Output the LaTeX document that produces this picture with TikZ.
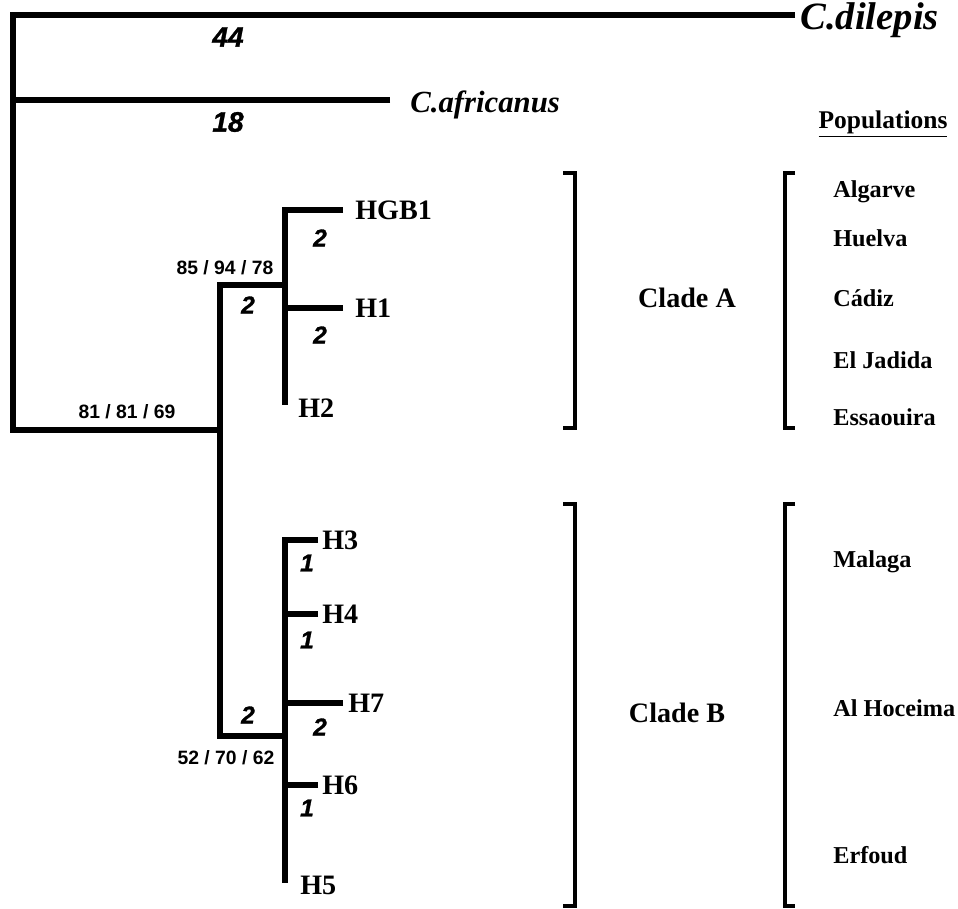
\documentclass[tikz,border=0pt]{standalone}
\usepackage{fontspec}
\setmainfont{Liberation Serif}
\setsansfont{Liberation Sans}
\newfontface\blackit{Liberation Sans Bold Italic}[FakeBold=1.2]
\usetikzlibrary{positioning,calc}
\tikzset{
  br/.style={line width=3.2pt,draw=black},
  brk/.style={line width=2.2pt,draw=black},
  taxon/.style={font=\bfseries\itshape\fontsize{22}{22}\selectfont,anchor=base west,inner sep=0pt},
  tip/.style={font=\bfseries\fontsize{16}{16}\selectfont,anchor=west,inner sep=0pt},
  blen/.style={font=\blackit\fontsize{14}{14}\selectfont,inner sep=0pt},
  blenbig/.style={font=\blackit\fontsize{16}{16}\selectfont,inner sep=0pt},
  boot/.style={font=\sffamily\bfseries\fontsize{11}{11}\selectfont,inner sep=0pt},
  clade/.style={font=\bfseries\fontsize{16}{16}\selectfont,inner sep=0pt},
  pop/.style={font=\bfseries\fontsize{13.8}{13.8}\selectfont,anchor=west,inner sep=0pt},
}

\begin{document}
\begin{tikzpicture}[x=0.02cm,y=-0.02cm]
  \useasboundingbox (0,0) rectangle (958,909);
  % nodes of the tree
  \coordinate (n0) at (13,430);
  \coordinate (dil) at (795,15);
  \coordinate (afr) at (390,100);
  \coordinate (nAB) at (220,430);
  \coordinate (nA) at (285,285);
  \coordinate (nB) at (285,736);
  \coordinate (hgb1) at (343,210);
  \coordinate (h1) at (343,308);
  \coordinate (h2) at (285,405);
  \coordinate (h3) at (318,540);
  \coordinate (h4) at (318,614);
  \coordinate (h7) at (343,703);
  \coordinate (h6) at (318,785);
  \coordinate (h5) at (285,883);
  % branches
  \draw[br] (dil) -| (n0) -- (nAB);
  \draw[br] (afr) -- (afr -| n0);
  \draw[br] (nA) -| (nAB) |- (nB);
  \draw[br] (hgb1) -| (h2);
  \draw[br] (h1) -- (h1 -| nA);
  \draw[br] (h3) -| (h5);
  \foreach \t in {h4,h7,h6} { \draw[br] (\t) -- (\t -| nB); }
  % tip labels
  \node[taxon] (ldil) at (800,30) {C.dilepis};
  \node[taxon,font=\bfseries\itshape\fontsize{17.5}{17.5}\selectfont] (lafr) at (410,113) {C.africanus};
  \node[tip,right=0.24cm of hgb1] (lhgb1) {HGB1};
  \node[tip,right=0.24cm of h1] (lh1) {H1};
  \node[tip,anchor=west] (lh2) at ($(h2)+(13,3)$) {H2};
  \node[tip,right=0.08cm of h3] (lh3) {H3};
  \node[tip,right=0.08cm of h4] (lh4) {H4};
  \node[tip,right=0.1cm of h7] (lh7) {H7};
  \node[tip,right=0.08cm of h6] (lh6) {H6};
  \node[tip,anchor=west] (lh5) at ($(h5)+(15,2)$) {H5};
  % branch lengths
  \node[blenbig] (b44) at (228,37) {44};
  \node[blenbig] (b18) at (228,122) {18};
  \foreach \v/\x/\y [count=\i] in {2/320/238,2/248/305,2/320/335,1/307/563,1/307/640,2/320/727,2/248/715,1/307/808}
    \node[blen] (b\i) at (\x,\y) {\v};
  % bootstrap values
  \node[boot] (bsAB) at (127,412) {81 / 81 / 69};
  \node[boot] (bsA) at (225,268) {85 / 94 / 78};
  \node[boot] (bsB) at (226,758) {52 / 70 / 62};
  % clades
  \draw[brk] (563,173) -- (575,173) -- (575,428) -- (563,428);
  \draw[brk] (563,504) -- (575,504) -- (575,906) -- (563,906);
  \node[clade] (cA) at (687,298) {Clade A};
  \node[clade] (cB) at (677,713) {Clade B};
  % populations
  \node[pop,anchor=center,font=\bfseries\fontsize{14.5}{14.5}\selectfont] (pops) at (883,124) {\underline{Populations}};
  \draw[brk] (795,173) -- (785,173) -- (785,428) -- (795,428);
  \draw[brk] (795,504) -- (785,504) -- (785,906) -- (795,906);
  \foreach \p/\y [count=\i] in {Algarve/192,Huelva/238,Cádiz/298,El Jadida/360,Essaouira/417,Malaga/562,Al Hoceima/708,Erfoud/855}
    \node[pop] (p\i) at (833,\y) {\p};
\end{tikzpicture}
\end{document}
